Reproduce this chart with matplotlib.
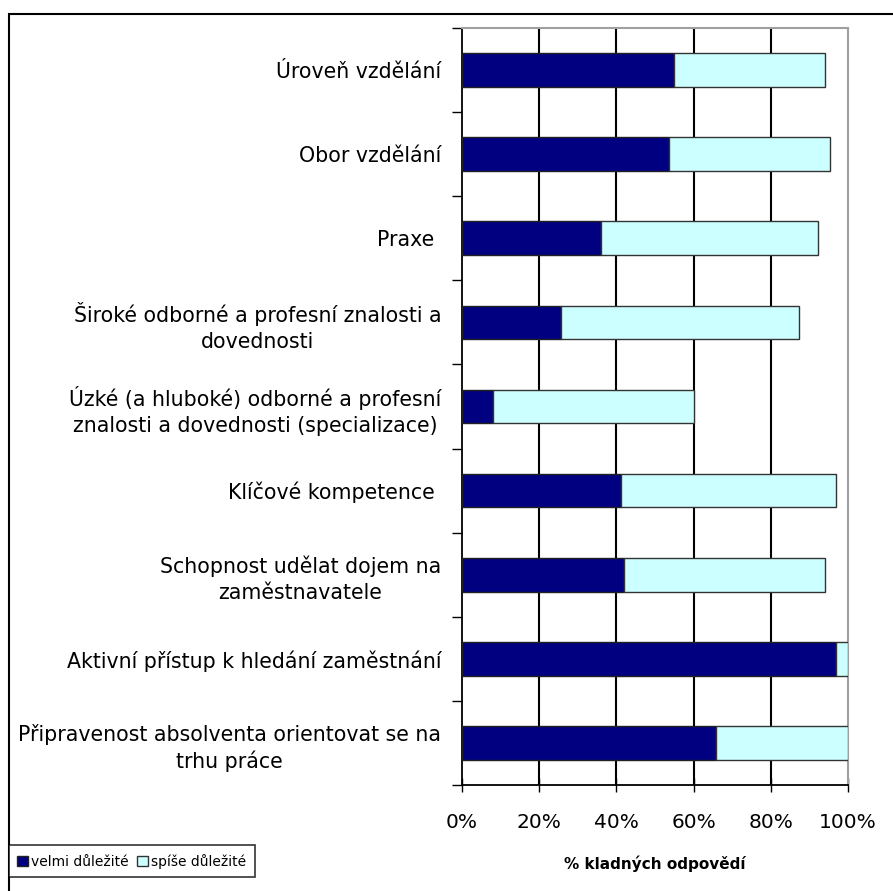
import matplotlib
matplotlib.use("Agg")
import matplotlib.pyplot as plt
from matplotlib.patches import Rectangle
from matplotlib.ticker import FixedLocator, FuncFormatter

categories = [
    "Úroveň vzdělání",
    "Obor vzdělání",
    "Praxe ",
    "Široké odborné a profesní znalosti a\ndovednosti",
    "Úzké (a hluboké) odborné a profesní\nznalosti a dovednosti (specializace)",
    "Klíčové kompetence ",
    "Schopnost udělat dojem na\nzaměstnavatele",
    "Aktivní přístup k hledání zaměstnání",
    "Připravenost absolventa orientovat se na\ntrhu práce",
]
velmi = [55.0, 53.5, 36.0, 25.6, 8.0, 41.2, 42.0, 97.0, 65.8]
spise = [39.0, 41.9, 56.2, 61.8, 52.0, 55.7, 52.0, 3.0, 34.2]
series_names = ["velmi důležité", "spíše důležité"]
x_ticks = [0, 20, 40, 60, 80, 100]
x_label = "% kladných odpovědí"

plt.rcParams['font.family'] = ['DejaVu Sans']

W, H = 893, 891
fig = plt.figure(figsize=(W / 100, H / 100), dpi=100)
ax = fig.add_axes([462 / W, 1 - 785 / H, (848 - 462) / W, (785 - 28) / H])

y = list(range(len(categories)))
ax.barh(y, velmi, height=0.4, color="#000080", edgecolor="#222222", linewidth=1.0,
        zorder=3, label=series_names[0])
ax.barh(y, spise, left=velmi, height=0.4, color="#CCFFFF", edgecolor="#333333",
        linewidth=1.0, zorder=3, label=series_names[1])

ax.set_xlim(0, 100)
ax.set_ylim(len(categories) - 0.5, -0.5)

ax.set_xticks(x_ticks)
ax.xaxis.set_major_formatter(FuncFormatter(lambda v, p: f"{int(v)}%"))
ax.tick_params(axis="x", direction="inout", length=10, width=1, pad=15,
               labelsize=14.5, colors="black")

ax.set_yticks(y)
ax.set_yticklabels(categories)
ax.yaxis.set_minor_locator(FixedLocator([i - 0.5 for i in range(len(categories) + 1)]))
ax.tick_params(axis="y", which="major", length=0, pad=15, labelsize=14.8)
ax.tick_params(axis="y", which="minor", direction="out", length=7, width=1)
for lab in ax.get_yticklabels():
    lab.set_multialignment("center")
    lab.set_linespacing(1.35)

ax.grid(axis="x", color="black", linewidth=1.5, zorder=1)
gl = ax.xaxis.get_gridlines()
gl[0].set_visible(False)
gl[-1].set_visible(False)

for s in ["top", "right"]:
    ax.spines[s].set_color("#a0a0a0")
    ax.spines[s].set_linewidth(1.5)
for s in ["left", "bottom"]:
    ax.spines[s].set_color("black")
    ax.spines[s].set_linewidth(1.3)

ax.set_xlabel(x_label, fontsize=11, fontweight="bold", labelpad=17)

leg = fig.legend(loc="lower left", bbox_to_anchor=(9 / W, 1 - 877 / H), ncol=2,
                 fontsize=10, frameon=True, fancybox=False, handlelength=0.8,
                 handleheight=0.8, handletextpad=0.2, columnspacing=0.6,
                 borderpad=0.6, borderaxespad=0)
leg.get_frame().set_edgecolor("black")
leg.get_frame().set_linewidth(1.2)

fig.patches.append(Rectangle((9 / W, -0.1), 1.2, 1.1 - 14 / H, transform=fig.transFigure,
                             fill=False, edgecolor="black", linewidth=1.5, clip_on=False))

fig.savefig("out.png", dpi=100)
